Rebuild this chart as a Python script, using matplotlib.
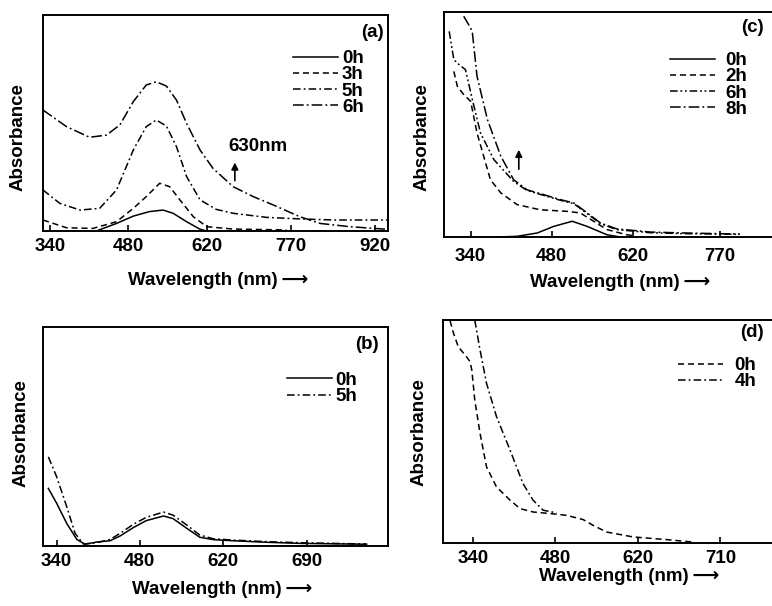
import numpy as np
import matplotlib
matplotlib.use("Agg")
import matplotlib.pyplot as plt

plt.rcParams['font.family'] = ['Liberation Sans', 'DejaVu Sans']
plt.rcParams['font.weight'] = 'bold'
FS = 13.5

# ---- data (wavelength nm, absorbance in arbitrary units) ----
# panel (a)
a_0h_x = [423, 459, 489, 518, 542, 560, 584, 608, 620]
a_0h_y = [0.0, 0.035, 0.069, 0.090, 0.097, 0.082, 0.043, 0.008, 0.0]
a_3h_x = [328, 370, 417, 459, 489, 512, 536, 554, 572, 596, 620, 667, 762]
a_3h_y = [0.051, 0.015, 0.012, 0.043, 0.105, 0.159, 0.221, 0.205, 0.144, 0.066, 0.020, 0.009, 0.005]
a_5h_x = [328, 358, 394, 429, 459, 489, 512, 530, 548, 566, 584, 608, 637, 667, 727, 786, 846, 941]
a_5h_y = [0.190, 0.128, 0.097, 0.105, 0.190, 0.375, 0.483, 0.514, 0.486, 0.390, 0.252, 0.144,
          0.100, 0.082, 0.063, 0.056, 0.051, 0.051]
a_6h_x = [328, 370, 411, 441, 465, 489, 512, 530, 548, 566, 584, 608, 631, 667, 703, 739, 786,
          822, 875, 941]
a_6h_y = [0.560, 0.483, 0.434, 0.444, 0.491, 0.599, 0.676, 0.691, 0.671, 0.606, 0.498, 0.375,
          0.290, 0.205, 0.159, 0.120, 0.066, 0.035, 0.020, 0.008]

# panel (c)
c_0h_x = [386, 420, 455, 483, 515, 541, 575, 598]
c_0h_y = [0.0, 0.003, 0.018, 0.047, 0.070, 0.047, 0.010, 0.0]
c_2h_x = [311, 317, 328, 340, 351, 374, 392, 420, 460, 506, 529, 552, 575, 609, 621]
c_2h_y = [0.736, 0.670, 0.633, 0.603, 0.462, 0.255, 0.196, 0.144, 0.121, 0.114, 0.107, 0.070,
          0.033, 0.010, 0.006]
c_6h_x = [303, 311, 320, 331, 343, 357, 380, 414, 437, 466, 495, 518, 541, 564, 592, 650, 707, 804]
c_6h_y = [0.914, 0.788, 0.766, 0.744, 0.610, 0.462, 0.344, 0.247, 0.207, 0.185, 0.163, 0.148,
          0.104, 0.059, 0.033, 0.019, 0.015, 0.012]
c_8h_x = [328, 340, 343, 351, 369, 392, 414, 437, 466, 495, 518, 541, 564, 592, 650, 707, 804]
c_8h_y = [0.981, 0.929, 0.907, 0.714, 0.521, 0.359, 0.255, 0.210, 0.188, 0.166, 0.151, 0.107,
          0.062, 0.036, 0.022, 0.018, 0.013]

# panel (b)
b_0h_x = [326, 340, 357, 374, 388, 407, 430, 447, 469, 491, 520, 536, 559, 581, 604, 637, 693,
          750, 862]
b_0h_y = [0.263, 0.195, 0.103, 0.030, 0.008, 0.018, 0.024, 0.046, 0.084, 0.116, 0.137, 0.125,
          0.081, 0.040, 0.029, 0.024, 0.017, 0.012, 0.008]
b_5h_x = [326, 340, 357, 371, 385, 407, 430, 447, 469, 491, 520, 536, 559, 581, 604, 637, 693,
          750, 862]
b_5h_y = [0.407, 0.316, 0.179, 0.058, 0.009, 0.015, 0.030, 0.058, 0.099, 0.131, 0.155, 0.141,
          0.096, 0.050, 0.033, 0.027, 0.020, 0.015, 0.009]

# panel (d)
d_0h_x = [301, 307, 315, 329, 335, 338, 343, 352, 363, 380, 403, 420, 442, 471, 499, 527, 544,
          567, 612, 669, 714]
d_0h_y = [0.997, 0.940, 0.880, 0.835, 0.813, 0.775, 0.641, 0.491, 0.341, 0.251, 0.192, 0.154,
          0.139, 0.132, 0.124, 0.105, 0.079, 0.049, 0.027, 0.015, 0.004]
d_4h_x = [343, 352, 363, 380, 403, 425, 442, 459, 482]
d_4h_y = [1.0, 0.865, 0.716, 0.566, 0.416, 0.266, 0.192, 0.147, 0.135]

# tick labels as printed, and where they sit on the wavelength axis
a_ticks = [340, 480, 620, 770, 920]
a_ticklabels = ['340', '480', '620', '770', '920']
c_ticks = [340, 480, 620, 770]
c_ticklabels = ['340', '480', '620', '770']
b_ticks = [340, 480, 620, 761]
b_ticklabels = ['340', '480', '620', '690']
d_ticks = [340, 480, 620, 760]
d_ticklabels = ['340', '480', '620', '710']

# line styles
SOLID = '-'
DASH = (0, (4, 2.5))
DASHDOT = (0, (5, 2, 1.2, 2))
DASHDOT2 = (0, (5, 1.8, 1.2, 1.8, 1.2, 1.8))
LONGDASHDOT = (0, (7, 2, 1.2, 2))

fig = plt.figure(figsize=(7.72, 6.06), dpi=100)

ax_a = fig.add_axes([0.0557, 0.6188, 0.4469, 0.3564])
ax_c = fig.add_axes([0.5751, 0.6089, 0.4350, 0.3713])
ax_b = fig.add_axes([0.0557, 0.0990, 0.4469, 0.3614])
ax_d = fig.add_axes([0.5738, 0.1040, 0.4363, 0.3679])


def setup(ax, xlim, ticks, labels, pad, ylab_pos, xlab_pos, tag, tag_pos):
    ax.set_xlim(xlim)
    ax.set_ylim(0, 1)
    ax.set_xticks(ticks, labels)
    ax.set_yticks([])
    ax.tick_params(axis='x', direction='in', length=4, width=1.2, pad=pad, labelsize=FS)
    for s in ax.spines.values():
        s.set_linewidth(1.4)
    ax.text(ylab_pos[0], ylab_pos[1], 'Absorbance', rotation=90, transform=ax.transAxes,
            ha='center', va='center', fontsize=FS)
    ax.text(xlab_pos[0], xlab_pos[1], 'Wavelength (nm)\u2009\u27f6', transform=ax.transAxes,
            ha='center', va='center', fontsize=FS)
    ax.text(tag_pos[0], tag_pos[1], tag, transform=ax.transAxes, ha='center', va='center',
            fontsize=FS)


def leg(ax, anchor, textpad):
    ax.legend(loc='upper left', bbox_to_anchor=anchor, frameon=False, fontsize=FS,
              handlelength=2.4, handletextpad=textpad, labelspacing=-0.05,
              borderpad=0, borderaxespad=0)


lw = 1.1

# (a)
ax_a.plot(a_0h_x, a_0h_y, color='k', lw=lw, ls=SOLID, label='0h')
ax_a.plot(a_3h_x, a_3h_y, color='k', lw=lw, ls=DASH, label='3h')
ax_a.plot(a_5h_x, a_5h_y, color='k', lw=lw, ls=DASHDOT, label='5h')
ax_a.plot(a_6h_x, a_6h_y, color='k', lw=lw, ls=LONGDASHDOT, label='6h')
setup(ax_a, (328, 943), a_ticks, a_ticklabels, 5, (-0.072, 0.435), (0.507, -0.227),
      '(a)', (0.954, 0.921))
leg(ax_a, (0.725, 0.838), 0.2)
ax_a.annotate('', xy=(670, 0.33), xytext=(670, 0.22),
              arrowprops=dict(arrowstyle='-|>', lw=1.2, color='k', mutation_scale=10))
ax_a.text(658, 0.389, '630nm', ha='left', va='center', fontsize=FS)

# (c)
ax_c.plot(c_0h_x, c_0h_y, color='k', lw=lw, ls=SOLID, label='0h')
ax_c.plot(c_2h_x, c_2h_y, color='k', lw=lw, ls=DASH, label='2h')
ax_c.plot(c_6h_x, c_6h_y, color='k', lw=lw, ls=DASHDOT2, label='6h')
ax_c.plot(c_8h_x, c_8h_y, color='k', lw=lw, ls=LONGDASHDOT, label='8h')
setup(ax_c, (294, 873), c_ticks, c_ticklabels, 8, (-0.0655, 0.444), (0.524, -0.2),
      '(c)', (0.92, 0.933))
leg(ax_c, (0.673, 0.822), 0.55)
ax_c.annotate('', xy=(423, 0.40), xytext=(423, 0.289),
              arrowprops=dict(arrowstyle='-|>', lw=1.2, color='k', mutation_scale=10))

# (b)
ax_b.plot(b_0h_x, b_0h_y, color='k', lw=lw, ls=SOLID, label='0h')
ax_b.plot(b_5h_x, b_5h_y, color='k', lw=lw, ls=DASHDOT, label='5h')
setup(ax_b, (317, 898), b_ticks, b_ticklabels, 5, (-0.064, 0.516), (0.52, -0.2),
      '(b)', (0.939, 0.918))
leg(ax_b, (0.707, 0.795), 0.2)

# (d)
ax_d.plot(d_0h_x, d_0h_y, color='k', lw=lw, ls=DASH, label='0h')
ax_d.plot(d_4h_x, d_4h_y, color='k', lw=lw, ls=DASHDOT, label='4h')
setup(ax_d, (289, 861), d_ticks, d_ticklabels, 5, (-0.071, 0.498), (0.552, -0.152),
      '(d)', (0.917, 0.946))
leg(ax_d, (0.698, 0.834), 0.6)

fig.savefig('out.png', dpi=100)
